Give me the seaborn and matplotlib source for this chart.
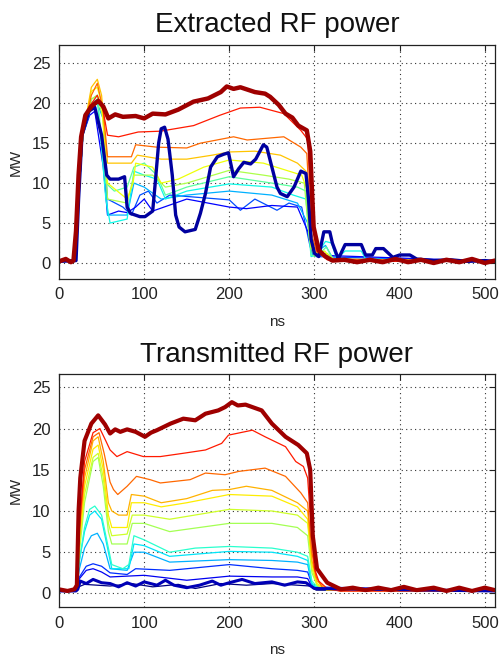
import matplotlib
matplotlib.use('Agg')
import matplotlib.pyplot as plt
import pandas as pd
import seaborn as sns

# ---- data: (ns, MW) points per trace ----
# Extracted RF power
ext_red = [(0, 0.2), (8, 0.5), (14, 0.1), (17, 0.3), (20, 4), (23, 11), (26, 15.8), (31, 18.5), (38, 19.6), (46, 20.3),
           (52, 19.6), (58, 18.1), (66, 18.6), (75, 18.3), (90, 18.4), (100, 18.1), (110, 18.7), (125, 18.6),
           (140, 19.2), (158, 20.2), (175, 20.6), (190, 21.4), (197, 22.1), (205, 21.8), (213, 22.0), (230, 21.4),
           (242, 21.2), (248, 20.8), (258, 19.8), (266, 18.7), (274, 18.2), (281, 17.2), (291, 16.6), (295, 14),
           (299, 4.5), (305, 1.6), (313, 0.8), (321, 0.3), (335, 0.4), (350, 0.1), (365, 0.4), (380, 0.1),
           (395, 0.5), (410, 0.1), (425, 0.4), (440, 0.0), (455, 0.4), (470, 0.1), (485, 0.5), (500, 0.0), (512, 0.3)]
ext_crimson = [(0, 0.2), (20, 0.3), (23, 8), (27, 16), (35, 19.5), (45, 21), (52, 19), (57, 16), (70, 15.8),
               (93, 16.4), (119, 16.5), (158, 17.2), (189, 18.5), (213, 19.4), (236, 19.5), (264, 18.7),
               (284, 16.6), (292, 15.5), (297, 5), (303, 1.5), (315, 0.4), (340, 0.2), (512, 0.2)]
ext_orange = [(0, 0.2), (20, 0.3), (23, 8), (28, 16), (38, 21), (45, 22.5), (52, 19), (57, 13.3), (85, 13.3),
              (90, 14.8), (115, 14.5), (150, 14.4), (166, 15), (205, 15.8), (221, 15.4), (264, 15.8), (284, 14.5),
              (291, 13.7), (296, 4), (302, 1.5), (315, 0.5), (512, 0.2)]
ext_amber = [(0, 0.2), (20, 0.3), (23, 8), (28, 16), (38, 22), (45, 23), (50, 21), (57, 12.5), (85, 12.5),
             (92, 13.5), (120, 13), (150, 13), (180, 13.5), (200, 13.9), (230, 14), (260, 13.5), (280, 12.5),
             (290, 11.5), (295, 4), (300, 1.5), (315, 0.5), (512, 0.2)]
ext_yellow = [(0, 0.2), (20, 0.3), (23, 8), (28, 16), (38, 21.5), (45, 22), (50, 20), (57, 10), (80, 8), (87, 10),
              (90, 12.5), (110, 12), (120, 10), (140, 10.5), (170, 12), (200, 12.9), (240, 12.5), (270, 11.5),
              (285, 11), (292, 9), (296, 2), (300, 1), (312, 1.5), (320, 0.4), (512, 0.2)]
ext_lime = [(0, 0.2), (20, 0.3), (23, 8), (28, 16), (38, 20.5), (45, 21), (52, 18), (57, 8), (80, 7.5), (88, 11),
            (110, 11), (125, 9.5), (150, 10), (200, 11.6), (240, 11), (270, 10.5), (288, 10), (294, 3), (300, 1),
            (315, 1.2), (325, 0.3), (512, 0.2)]
ext_green = [(0, 0.2), (20, 0.3), (23, 8), (28, 16), (38, 20.5), (45, 21), (55, 10), (65, 9), (80, 9.5), (88, 12),
             (100, 12.5), (115, 11), (125, 8.5), (150, 9.5), (200, 10.8), (250, 10), (280, 9.5), (290, 9),
             (296, 1), (302, 0.8), (314, 2), (322, 0.4), (512, 0.2)]
ext_cyan = [(0, 0.2), (20, 0.3), (23, 8), (28, 16), (38, 20), (45, 20.5), (55, 8), (60, 5), (80, 5.5), (88, 11.5),
            (100, 11), (115, 10.5), (125, 8), (150, 9), (200, 9.9), (250, 9.5), (275, 8.5), (290, 8), (296, 0.8),
            (302, 1), (313, 2.7), (320, 2.5), (326, 0.5), (336, 1.5), (355, 1.5), (360, 0.5), (512, 0.2)]
ext_sky = [(0, 0.2), (20, 0.3), (23, 8), (28, 16), (38, 19.5), (45, 20), (52, 18), (57, 6), (80, 6), (88, 10),
           (100, 9.5), (120, 8), (150, 8.5), (200, 9), (250, 8.5), (280, 7.5), (292, 5), (298, 1), (313, 2.2),
           (322, 0.5), (512, 0.2)]
ext_blue = [(0, 0.2), (20, 0.3), (23, 8), (28, 16), (36, 19), (42, 19.5), (52, 15), (57, 8), (75, 7), (85, 6),
            (95, 8.5), (105, 9), (115, 7.5), (130, 8.5), (200, 7.9), (213, 6.6), (230, 8), (256, 6.6), (270, 7.5),
            (285, 7), (295, 2), (302, 0.8), (512, 0.2)]
ext_violet = [(0, 0.2), (20, 0.3), (23, 8), (28, 16), (36, 18.5), (42, 19), (52, 12), (57, 6), (70, 6.5),
              (80, 6.3), (90, 7), (100, 8), (110, 6.5), (150, 8), (200, 7), (220, 6.8), (250, 7.2), (280, 7),
              (292, 4), (298, 1), (512, 0.2)]
ext_navy = [(0, 0.2), (20, 0.3), (23, 8), (27, 16), (35, 19), (42, 19.5), (50, 16), (56, 11), (60, 10.5),
            (70, 10.5), (77, 10.8), (80, 7), (84, 6.2), (95, 5.8), (101, 5.8), (110, 6.5), (113, 10), (117, 15),
            (120, 16.8), (124, 17), (128, 15.5), (133, 11), (137, 6), (141, 4.5), (148, 3.9), (160, 4.2),
            (166, 6.2), (172, 8.7), (178, 12), (186, 13.3), (193, 13.6), (199, 13.8), (205, 10.8), (211, 11.8),
            (217, 12.6), (225, 12.4), (231, 13), (240, 14.8), (244, 14.5), (250, 12), (256, 9.5), (260, 8.7),
            (268, 8.3), (276, 9.5), (284, 11.5), (290, 11.2), (293, 8), (296, 3), (300, 1.2), (305, 0.8),
            (311, 3.9), (318, 3.9), (321, 2.5), (328, 0.5), (336, 2.3), (355, 2.3), (360, 1.0), (368, 1.0),
            (372, 1.8), (381, 1.8), (392, 0.7), (400, 1), (412, 1), (420, 0.5), (440, 0.3), (460, 0.4),
            (480, 0.2), (500, 0.3), (512, 0.2)]

# Transmitted RF power
tra_red = [(0, 0.5), (10, 0.3), (18, 0.5), (21, 1), (23, 10), (25, 14), (30, 18.5), (38, 20.6), (46, 21.6),
           (54, 20.5), (60, 19.4), (66, 19.9), (72, 19.6), (80, 19.9), (90, 19.6), (101, 19.0), (108, 19.5),
           (115, 19.8), (131, 20.6), (146, 21.2), (160, 21.0), (172, 21.8), (187, 22.2), (195, 22.6), (203, 23.2),
           (210, 22.8), (219, 22.9), (238, 22.2), (250, 20.6), (266, 19.0), (281, 18.0), (291, 17.0), (295, 15),
           (298, 7), (303, 3), (315, 1.3), (331, 0.5), (345, 0.7), (360, 0.4), (375, 0.7), (390, 0.4), (405, 0.8),
           (420, 0.4), (440, 0.7), (455, 0.3), (470, 0.7), (485, 0.3), (500, 0.7), (512, 0.4)]
tra_crimson = [(0, 0.3), (20, 0.3), (24, 8), (30, 16), (40, 19.5), (48, 20), (55, 18.5), (60, 17.4), (68, 16.6),
               (80, 17.2), (99, 16.6), (119, 16.6), (146, 17), (172, 17.4), (191, 18.2), (199, 19.2), (227, 19.8),
               (242, 19), (266, 17.8), (278, 16), (287, 15.4), (292, 14), (296, 8), (300, 3), (305, 1.5),
               (315, 0.6), (330, 0.3), (512, 0.3)]
tra_orange = [(0, 0.3), (20, 0.3), (24, 8), (30, 15), (40, 19), (47, 19.5), (53, 17), (60, 13.5), (64, 12.6),
              (69, 12), (80, 13), (91, 14.2), (107, 13.8), (119, 13.4), (154, 13.8), (172, 14.6), (195, 14.4),
              (211, 14.8), (242, 15.2), (266, 14.2), (284, 12.2), (292, 11), (297, 5), (302, 2), (310, 0.6),
              (330, 0.3), (512, 0.3)]
tra_amber = [(0, 0.3), (20, 0.3), (24, 7), (30, 14), (40, 18.5), (46, 19), (52, 16), (58, 11), (62, 10), (70, 9.5),
             (80, 9.5), (85, 12), (100, 11.8), (120, 11), (150, 11.5), (180, 12.5), (200, 12.6), (220, 13),
             (250, 12.5), (280, 11), (292, 10), (297, 4), (303, 1.5), (315, 0.4), (512, 0.3)]
tra_yellow = [(0, 0.3), (20, 0.3), (24, 6), (30, 13), (40, 17.5), (46, 18), (52, 15), (58, 9.5), (62, 8),
              (80, 8), (85, 11), (100, 11), (120, 10.5), (150, 11), (200, 12), (250, 11.8), (280, 10.5), (292, 9),
              (297, 3.5), (303, 1.2), (315, 0.4), (512, 0.3)]
tra_lime = [(0, 0.3), (20, 0.3), (24, 6), (30, 12), (40, 16.5), (46, 17), (52, 14), (58, 8.5), (62, 7), (80, 7.2),
            (86, 9.5), (100, 9.5), (130, 9), (200, 10.2), (250, 10), (280, 9.5), (292, 8.5), (297, 3), (303, 1),
            (315, 0.4), (512, 0.3)]
tra_green = [(0, 0.3), (20, 0.3), (24, 5), (30, 11), (40, 16), (46, 16.5), (52, 13), (58, 7.5), (62, 6), (80, 6),
             (86, 8.5), (100, 8.5), (130, 7.5), (200, 8.5), (250, 8.5), (280, 8), (292, 7), (297, 2.5), (303, 1),
             (315, 0.4), (512, 0.3)]
tra_teal = [(0, 0.3), (20, 0.3), (24, 4), (30, 8), (36, 10.2), (42, 10.6), (50, 9.5), (55, 7), (62, 3.5), (75, 3),
            (82, 3.5), (88, 7), (100, 6.5), (130, 5), (160, 5.5), (200, 5.7), (250, 5.5), (280, 5), (292, 4.5),
            (297, 1.5), (305, 0.6), (512, 0.3)]
tra_cyan = [(0, 0.3), (20, 0.3), (24, 4), (30, 7.5), (36, 9.5), (42, 10), (50, 9), (55, 6.5), (62, 3), (82, 3),
            (88, 6), (100, 5.8), (130, 4.5), (200, 5.1), (250, 5), (280, 4.5), (292, 4), (297, 1.2), (305, 0.5),
            (512, 0.3)]
tra_sky = [(0, 0.3), (20, 0.3), (24, 3), (30, 5.5), (38, 7), (45, 7.3), (52, 6), (60, 3), (80, 2.8), (88, 5),
           (100, 5), (130, 3.8), (200, 4.1), (250, 4), (280, 3.8), (292, 3.5), (297, 1), (305, 0.5), (512, 0.3)]
tra_blue = [(0, 0.3), (20, 0.3), (24, 2), (32, 3.3), (40, 3.6), (50, 3.3), (60, 2.5), (80, 2.3), (90, 3),
            (130, 2.8), (200, 3.5), (250, 3), (280, 2.8), (292, 2.6), (298, 0.8), (512, 0.3)]
tra_violet = [(0, 0.3), (20, 0.3), (24, 1.8), (32, 2.8), (40, 3), (50, 2.6), (60, 2), (100, 2.2), (150, 1.6),
              (200, 2.1), (250, 2.0), (280, 2), (292, 1.8), (298, 0.6), (512, 0.3)]
tra_navy = [(0, 0.3), (20, 0.3), (22, 0.5), (25, 1.5), (32, 1.2), (40, 1.7), (50, 1.3), (60, 1.2), (70, 0.8),
            (80, 1.3), (90, 0.9), (100, 1.4), (115, 1.0), (125, 1.6), (135, 1.0), (150, 0.7), (165, 1.0),
            (180, 1.5), (190, 1.0), (200, 1.3), (215, 1.7), (230, 1.2), (250, 1.4), (265, 1.0), (280, 1.4),
            (290, 1.3), (300, 0.6), (512, 0.3)]
tra_dark = [(0, 0.3), (20, 0.3), (23, 0.8), (30, 1.1), (45, 1.0), (60, 0.9), (85, 1.2), (110, 0.8), (140, 1.1),
            (160, 0.6), (190, 1.2), (220, 1.0), (250, 1.2), (280, 1.0), (295, 0.9), (302, 0.4), (512, 0.3)]

ext_traces = [ext_blue, ext_violet, ext_sky, ext_cyan, ext_green, ext_lime, ext_yellow, ext_amber,
              ext_orange, ext_crimson, ext_navy, ext_red]
ext_jet = [0.2, 0.12, 0.3, 0.37, 0.46, 0.56, 0.64, 0.7, 0.8, 0.88, 0.03, 0.97]
ext_lw = [0.9] * 10 + [2.4, 3.2]

tra_traces = [tra_dark, tra_violet, tra_blue, tra_sky, tra_cyan, tra_teal, tra_green, tra_lime, tra_yellow,
              tra_amber, tra_orange, tra_crimson, tra_navy, tra_red]
tra_jet = [0.0, 0.1, 0.17, 0.3, 0.35, 0.4, 0.55, 0.6, 0.66, 0.72, 0.8, 0.88, 0.05, 0.97]
tra_lw = [0.9] * 12 + [2.2, 3.0]


def to_frame(traces):
    rows = []
    for i, pts in enumerate(traces):
        for t, v in pts:
            rows.append((i, t, v))
    return pd.DataFrame(rows, columns=['trace', 'ns', 'MW'])


def draw(ax, traces, jet, widths, title, ylim):
    df = to_frame(traces)
    cmap = plt.get_cmap('jet')
    # draw in list order so the thick traces end on top
    for i, c in enumerate(jet):
        sns.lineplot(data=df[df.trace == i], x='ns', y='MW', color=cmap(c), estimator=None, sort=False,
                     legend=False, lw=widths[i], ax=ax)
    ax.set_xlim(0, 512)
    ax.set_ylim(*ylim)
    ax.set_xticks([0, 100, 200, 300, 400, 500])
    ax.set_yticks([0, 5, 10, 15, 20, 25])
    ax.grid(True, color='#333333', linestyle=(0, (1, 3)), linewidth=0.8)
    ax.tick_params(direction='in', top=True, right=True, length=4, labelsize=12, colors='#222222', pad=6)
    for s in ax.spines.values():
        s.set_color('#222222')
        s.set_linewidth(0.9)
    ax.set_title(title, fontsize=20, pad=9, color='#111111')
    ax.set_xlabel('ns', fontsize=11, labelpad=9)
    ax.set_ylabel('MW', fontsize=11, labelpad=7)


sns.set_style('white')
plt.rcParams['font.family'] = ['Liberation Sans', 'DejaVu Sans']

fig = plt.figure(figsize=(5, 6.61), dpi=100)
ax1 = fig.add_axes([0.118, 0.578, 0.872, 0.354])
ax2 = fig.add_axes([0.118, 0.081, 0.872, 0.353])
draw(ax1, ext_traces, ext_jet, ext_lw, 'Extracted RF power', (-2.0, 27.3))
draw(ax2, tra_traces, tra_jet, tra_lw, 'Transmitted RF power', (-1.7, 26.6))
fig.savefig('out.png', dpi=100)
